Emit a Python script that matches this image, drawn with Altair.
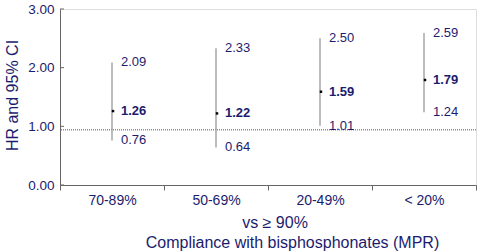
import altair as alt
import pandas as pd

categories = ["70-89%", "50-69%", "20-49%", "< 20%"]
hr = [1.26, 1.22, 1.59, 1.79]
ci_low = [0.76, 0.64, 1.01, 1.24]
ci_high = [2.09, 2.33, 2.50, 2.59]
ref_value = [0.94]
y_ticks = [0.0, 1.0, 2.0, 3.0]

NAVY = "#1c1c6e"
FONT = "Liberation Sans"

df = pd.DataFrame({"cat": categories, "hr": hr, "lo": ci_low, "hi": ci_high})
ref_df = pd.DataFrame({"v": ref_value})
tick_df = pd.DataFrame({"t": y_ticks})

x_enc = alt.X(
    "cat:N",
    sort=categories,
    scale=alt.Scale(paddingInner=0, paddingOuter=0),
    axis=alt.Axis(
        title="Compliance with bisphosphonates (MPR)",
        titleX=232, titleY=62, titleBaseline="alphabetic", titleAlign="center",
        titleFont=FONT, titleFontSize=16, titleFontWeight="normal", titleColor=NAVY,
        labelAngle=0, labelFont=FONT, labelFontSize=14, labelColor=NAVY,
        labelPadding=3, tickBand="extent", tickSize=5, tickColor="#666666",
        domainColor="#666666", grid=False,
    ),
)

y_scale = alt.Scale(domain=[0, 3], nice=False)
y_axis = alt.Axis(
    values=y_ticks, format=".2f", tickSize=0, labelPadding=6,
    labelFont=FONT, labelFontSize=13.5, labelColor=NAVY,
    domainColor="#666666", grid=False,
    title="HR and 95% CI", titleFont=FONT, titleFontSize=16,
    titleFontWeight="normal", titleColor=NAVY, titleAngle=-90,
    titleX=-48, titleY=86, titleAlign="center", titleBaseline="middle",
)

base = alt.Chart(df)

bars = base.mark_rule(color="#a0a0a0", strokeWidth=1.4).encode(
    x=x_enc,
    y=alt.Y("lo:Q", scale=y_scale, axis=y_axis),
    y2="hi:Q",
)

dots = base.mark_square(color="black", size=6, opacity=1, xOffset=1).encode(
    x=alt.X("cat:N", sort=categories), y="hr:Q"
)

hi_text = base.mark_text(align="left", baseline="middle", dx=9, font=FONT,
                         fontSize=13, color=NAVY).encode(
    x=alt.X("cat:N", sort=categories), y="hi:Q", text=alt.Text("hi:Q", format=".2f")
)
lo_text = base.mark_text(align="left", baseline="middle", dx=9, font=FONT,
                         fontSize=13, color=NAVY).encode(
    x=alt.X("cat:N", sort=categories), y="lo:Q", text=alt.Text("lo:Q", format=".2f")
)
hr_text = base.mark_text(align="left", baseline="middle", dx=9, font=FONT,
                         fontSize=13, fontWeight="bold", color=NAVY).encode(
    x=alt.X("cat:N", sort=categories), y="hr:Q", text=alt.Text("hr:Q", format=".2f")
)

ref = alt.Chart(ref_df).mark_rule(color="#555555", strokeWidth=1, strokeDash=[1, 1]).encode(
    y="v:Q"
)

ticks = alt.Chart(tick_df).mark_rule(color="#666666", strokeWidth=1).encode(
    y="t:Q", x=alt.value(0), x2=alt.value(4)
)

chart = alt.layer(ref, ticks, bars, dots, hi_text, lo_text, hr_text).properties(
    width=416, height=176,
    autosize=alt.AutoSizeParams(type="none"),
    padding={"left": 60, "top": 9, "right": 2, "bottom": 67},
    title=alt.TitleParams(
        text="vs ≥ 90%", orient="bottom", anchor="middle", frame="group",
        baseline="alphabetic", dx=7, dy=-22, offset=0,
        font=FONT, fontSize=16, fontWeight="normal", color=NAVY,
    ),
).configure_view(stroke=None).configure(background="white")

chart.save("out.html", embed_options={"renderer": "svg", "actions": False})
